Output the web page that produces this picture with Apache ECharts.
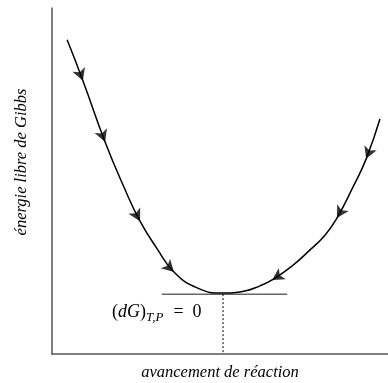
<!DOCTYPE html>
<html><head><meta charset="utf-8">
<script src="https://cdn.jsdelivr.net/npm/echarts@6/dist/echarts.min.js"></script>
<style>html,body{margin:0;padding:0;background:#fff}#c{width:388px;height:383px}</style>
</head><body><div id="c"></div>
<script>
// Gibbs free energy curve (arbitrary units)
const curveX = [0.45, 0.92, 1.58, 2.17, 2.62, 3.13, 3.63, 4.32, 5.09, 5.74, 6.19, 6.55, 7.14, 7.68, 8.13, 8.48, 8.96, 9.35, 9.76];
const curveY = [9.08, 7.90, 6.13, 4.76, 3.84, 3.04, 2.37, 1.91, 1.76, 1.82, 1.97, 2.14, 2.54, 3.01, 3.44, 3.93, 4.83, 5.64, 6.79];
// arrows placed on curve points; direction: +1 toward higher index, -1 toward lower
const arrowIdx = [1, 2, 4, 6, 17, 15, 11];
const arrowDir = [1, 1, 1, 1, -1, -1, -1];
const minX = 5.09, minY = 1.73;
const tangentX = [3.27, 7.00];
const xLabel = 'avancement de réaction';
const yLabel = 'énergie libre de Gibbs';

const chart = echarts.init(document.getElementById('c'));
const curve = curveX.map((x, i) => [x, curveY[i]]);
const serif = '"Liberation Serif", "DejaVu Serif", serif';

const option = {
  animation: false,
  grid: {left: 52, right: 0, top: 8, bottom: 29},
  xAxis: {type: 'value', min: 0, max: 10, axisLine: {show: true, onZero: false, lineStyle: {color: '#555', width: 1.5}},
    axisTick: {show: false}, axisLabel: {show: false}, splitLine: {show: false}},
  yAxis: {type: 'value', min: 0, max: 10, axisLine: {show: true, onZero: false, lineStyle: {color: '#555', width: 1.5}},
    axisTick: {show: false}, axisLabel: {show: false}, splitLine: {show: false}},
  series: [
    {type: 'line', data: [[tangentX[0], minY], [tangentX[1], minY]], symbol: 'none',
      lineStyle: {color: '#666', width: 1.5}, z: 2},
    {type: 'line', data: [[minX, minY], [minX, 0]], symbol: 'none',
      lineStyle: {color: '#000', width: 1, type: [2, 2]}, z: 2},
    {type: 'line', data: curve, smooth: 0.5, symbol: 'none',
      lineStyle: {color: '#000', width: 1.5}, z: 3},
    {type: 'scatter', data: [], symbol: 'arrow', symbolSize: [10, 12],
      itemStyle: {color: '#000'}, z: 4}
  ],
  graphic: [
    {type: 'text', left: 112, top: 301, style: {
      text: '{n|(}{i|dG}{n|)}{s|T,P}{n|  =  0}',
      rich: {
        n: {fontFamily: serif, fontSize: 18, fill: '#000', lineHeight: 22},
        i: {fontFamily: serif, fontSize: 18, fontStyle: 'italic', fill: '#000', lineHeight: 22},
        s: {fontFamily: serif, fontSize: 13, fontStyle: 'italic', fill: '#000', lineHeight: 22, padding: [10, 1, 0, 0]}
      }}},
    {type: 'text', x: 220, y: 373, style: {text: xLabel, fontFamily: serif, fontSize: 16.5, fontStyle: 'italic',
      fill: '#000', align: 'center', verticalAlign: 'middle'}},
    {type: 'text', x: 22, y: 162, rotation: Math.PI / 2, style: {text: yLabel, fontFamily: serif, fontSize: 16.5,
      fontStyle: 'italic', fill: '#000', align: 'center', verticalAlign: 'middle'}}
  ]
};
chart.setOption(option);

const arrows = arrowIdx.map((idx, k) => {
  const d = arrowDir[k];
  const a = chart.convertToPixel({gridIndex: 0}, curve[idx - d]);
  const b = chart.convertToPixel({gridIndex: 0}, curve[idx + d]);
  const dx = b[0] - a[0], dy = b[1] - a[1];
  const rot = Math.atan2(-dx, -dy) * 180 / Math.PI;
  return {value: curve[idx], symbolRotate: rot};
});
chart.setOption({series: [{}, {}, {}, {data: arrows}]});
</script></body></html>
